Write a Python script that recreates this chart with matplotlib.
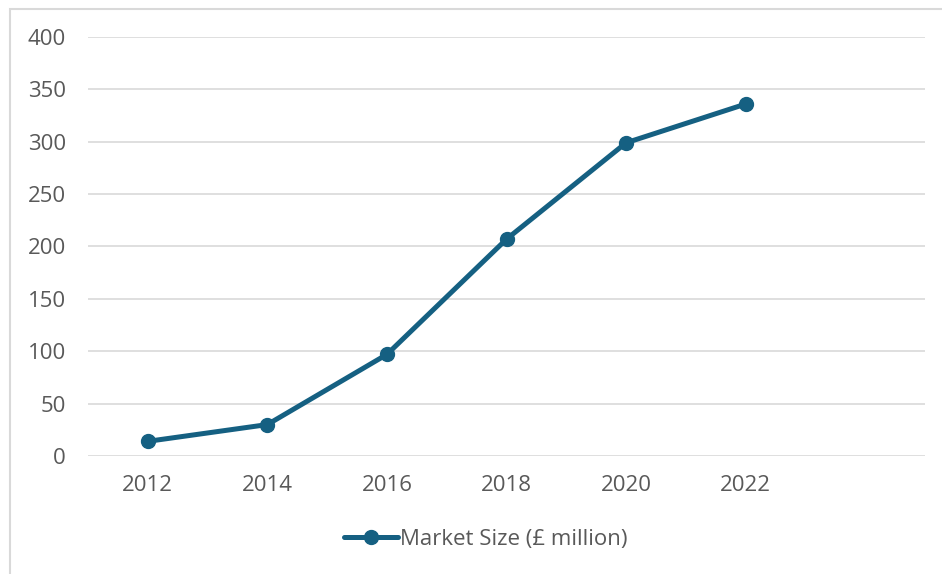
import matplotlib.pyplot as plt
from matplotlib.patches import Rectangle

plt.rcParams.update({
    "font.family": ["Open Sans", "DejaVu Sans"],
    "font.size": 16,
    "text.color": "#595959",
    "xtick.color": "#595959",
    "ytick.color": "#595959",
})

years = ["2012", "2014", "2016", "2018", "2020", "2022"]
market_size = [14, 30, 97, 207, 299, 336]
yticks = [0, 50, 100, 150, 200, 250, 300, 350, 400]

fig = plt.figure(figsize=(9.42, 5.74), dpi=100)
ax = fig.add_axes([88 / 942, 1 - 456 / 574, (925 - 88) / 942, (456 - 37) / 574])

x = list(range(len(years)))
ax.plot(x, market_size, color="#156082", lw=3.6, marker="o", ms=10,
        solid_capstyle="round", label="Market Size (£ million)", clip_on=False)

ax.set_xlim(-0.5, 6.5)
ax.set_ylim(0, 400)
ax.set_xticks(x)
ax.set_xticklabels(years)
ax.set_yticks(yticks)
ax.yaxis.grid(True, color="#d9d9d9", lw=1.2)
ax.set_axisbelow(True)
for s in ax.spines.values():
    s.set_visible(False)
ax.tick_params(length=0, labelsize=16)
ax.tick_params(axis="x", pad=14)
ax.tick_params(axis="y", pad=16)

leg = fig.legend(loc="center", bbox_to_anchor=(0.5 + 15 / 942, 1 - 539 / 574),
                 frameon=False, fontsize=16, handlelength=2.4, handletextpad=0.1)

# outer chart border (light grey)
fig.patches.append(Rectangle((10 / 942, -0.05), 1.0, 1 - 9 / 574 + 0.05,
                             transform=fig.transFigure, fill=False,
                             edgecolor="#d9d9d9", lw=1.5))

plt.savefig("out.png", dpi=100)
